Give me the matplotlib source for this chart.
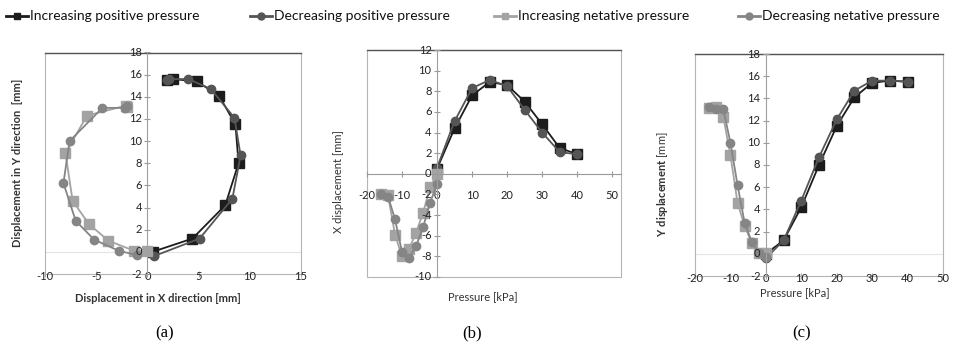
import matplotlib
matplotlib.use('Agg')
import matplotlib.pyplot as plt
from matplotlib.patches import Rectangle
from matplotlib.lines import Line2D
from matplotlib.transforms import offset_copy

plt.rcParams['font.family'] = ['Lato', 'DejaVu Sans']
plt.rcParams['mathtext.fontset'] = 'custom'
plt.rcParams['mathtext.rm'] = 'Lato'
plt.rcParams['mathtext.bf'] = 'Lato:bold'
plt.rcParams['axes.unicode_minus'] = False

# ---------------- data ----------------
series_names = ["Increasing positive pressure", "Decreasing positive pressure",
                "Increasing netative pressure", "Decreasing netative pressure"]

p_inc_pos = [0, 5, 10, 15, 20, 25, 30, 35, 40]
x_inc_pos = [0.5, 4.4, 7.6, 8.9, 8.6, 7.0, 4.8, 2.5, 1.9]
y_inc_pos = [0.0, 1.2, 4.2, 8.0, 11.5, 14.1, 15.4, 15.6, 15.5]

p_dec_pos = [40, 35, 30, 25, 20, 15, 10, 5, 0]
x_dec_pos = [1.9, 2.1, 4.0, 6.2, 8.5, 9.1, 8.3, 5.1, 0.6]
y_dec_pos = [15.5, 15.6, 15.6, 14.7, 12.1, 8.7, 4.8, 1.2, -0.4]

p_inc_neg = [0, -2, -4, -6, -8, -10, -12, -14, -16]
x_inc_neg = [0.0, -1.3, -3.8, -5.7, -7.3, -8.0, -5.9, -2.1, -2.0]
y_inc_neg = [0.1, 0.1, 1.0, 2.5, 4.6, 8.9, 12.3, 13.2, 13.1]

p_dec_neg = [-16, -14, -12, -10, -8, -6, -4, -2, 0]
x_dec_neg = [-2.0, -2.2, -4.4, -7.6, -8.2, -7.0, -5.2, -2.8, -1.0]
y_dec_neg = [13.2, 13.0, 13.0, 10.0, 6.2, 2.8, 1.1, 0.1, -0.3]

ticks_a_x = [-10, -5, 0, 5, 10, 15]
ticks_a_y = [-2, 0, 2, 4, 6, 8, 10, 12, 14, 16, 18]
ticks_b_x = [-20, -10, 0, 10, 20, 30, 40, 50]
ticks_b_y = [-10, -8, -6, -4, -2, 0, 2, 4, 6, 8, 10, 12]
ticks_c_x = [-20, -10, 0, 10, 20, 30, 40, 50]
ticks_c_y = [-2, 0, 2, 4, 6, 8, 10, 12, 14, 16, 18]

series = [
    (p_inc_pos, x_inc_pos, y_inc_pos),
    (p_dec_pos, x_dec_pos, y_dec_pos),
    (p_inc_neg, x_inc_neg, y_inc_neg),
    (p_dec_neg, x_dec_neg, y_dec_neg),
]
colors = ['#1c1c1c', '#555555', '#a3a3a3', '#858585']
markers = ['s', 'o', 's', 'o']

W, H = 967, 349
fig = plt.figure(figsize=(W / 100, H / 100), dpi=100)


def fx(px):
    return px / W


def fy(py):
    return 1 - py / H


def make_axes(left, top, right, bottom):
    return fig.add_axes([fx(left), fy(bottom), (right - left) / W, (bottom - top) / H])


def style(ax, xaxis_at_zero, yticks):
    for s in ['top', 'right']:
        ax.spines[s].set_visible(False)
    ax.spines['left'].set_position(('data', 0))
    ax.spines['left'].set_color('#a0a0a0')
    ax.spines['left'].set_linewidth(0.8)
    if xaxis_at_zero:
        ax.spines['bottom'].set_position(('data', 0))
        ax.spines['bottom'].set_color('#9a9a9a')
        ax.spines['bottom'].set_linewidth(0.8)
        ax.tick_params(axis='x', direction='inout', length=5, color='#999999',
                       pad=9, labelsize=8, labelcolor='#222222')
    else:
        ax.spines['bottom'].set_visible(False)
        ax.axhline(0, color='#e4e4e4', lw=0.8, zorder=0)
        ax.tick_params(axis='x', direction='inout', length=4, color='#aaaaaa',
                       pad=-4, labelsize=8, labelcolor='#222222')
    ax.set_yticks(yticks)
    ax.tick_params(axis='y', direction='inout', length=5, color='#999999',
                   labelleft=False)
    # y tick labels drawn over the data, left of the x=0 axis (Excel style)
    tr = offset_copy(ax.transData, fig=fig, x=-4, y=0, units='points')
    for v in yticks:
        ax.text(0, v, str(v), transform=tr, ha='right', va='center',
                fontsize=8, color='#222222', zorder=10, clip_on=False)
    ax.patch.set_alpha(0)
    # plot-area border
    ax.add_patch(Rectangle((0, 0), 1, 1, transform=ax.transAxes, fill=False,
                           ec='#b5b5b5', lw=0.8, clip_on=False, zorder=0.5))
    ax.plot([0, 1], [1, 1], transform=ax.transAxes, color='#555555', lw=1.0,
            clip_on=False, zorder=0.6)


def draw(ax, xi, yi):
    for (s, c, m) in zip(series, colors, markers):
        ax.plot(s[xi], s[yi], color=c, marker=m, markersize=6.5 if m == 's' else 6,
                lw=1.3, clip_on=False, zorder=2)


# (a) X vs Y displacement
ax_a = make_axes(45, 52.5, 301, 274)
draw(ax_a, 1, 2)
ax_a.set_xlim(-10, 15)
ax_a.set_ylim(-2, 18)
ax_a.set_xticks(ticks_a_x)
style(ax_a, False, ticks_a_y)

# (b) Pressure vs X displacement
ax_b = make_axes(367, 50, 621, 277)
draw(ax_b, 0, 1)
ax_b.set_xlim(-20, 52.5)
ax_b.set_ylim(-10, 12)
ax_b.set_xticks(ticks_b_x)
style(ax_b, True, ticks_b_y)

# (c) Pressure vs Y displacement
ax_c = make_axes(695, 54, 943, 276)
draw(ax_c, 0, 2)
ax_c.set_xlim(-20, 50)
ax_c.set_ylim(-2, 18)
ax_c.set_xticks(ticks_c_x)
style(ax_c, False, ticks_c_y)

# axis titles
fig.text(fx(18), fy(163), 'Displacement in Y direction  [mm]', rotation=90,
         ha='center', va='center', fontsize=8, weight='bold', color='#333333')
fig.text(fx(158), fy(298), 'Displacement in X direction [mm]',
         ha='center', va='center', fontsize=8, weight='bold', color='#333333')
fig.text(fx(338), fy(182), 'X displacement [mm]', rotation=90,
         ha='center', va='center', fontsize=8, color='#333333')
fig.text(fx(483), fy(297), 'Pressure [kPa]', ha='center', va='center',
         fontsize=8, color='#333333')
fig.text(fx(662), fy(184), r'$\mathbf{Y\ displacement}$ [mm]', rotation=90,
         ha='center', va='center', fontsize=8, color='#333333')
fig.text(fx(795), fy(293), 'Pressure [kPa]', ha='center', va='center',
         fontsize=8, color='#333333')

# legend
hx = [6, 250, 494, 738]
for name, c, m, x0 in zip(series_names, colors, markers, hx):
    fig.add_artist(Line2D([fx(x0), fx(x0 + 22)], [fy(16), fy(16)], color=c, lw=2))
    fig.add_artist(Line2D([fx(x0 + 11)], [fy(16)], color=c, marker=m,
                          markersize=5, lw=0))
    fig.text(fx(x0 + 24), fy(16), name, ha='left', va='center', fontsize=10,
             color='#111111')

# panel labels
for lab, x in [('(a)', 165), ('(b)', 472), ('(c)', 802)]:
    fig.text(fx(x), fy(333), lab, ha='center', va='center', fontsize=12,
             family='Liberation Serif')

fig.savefig('out.png', dpi=100)
